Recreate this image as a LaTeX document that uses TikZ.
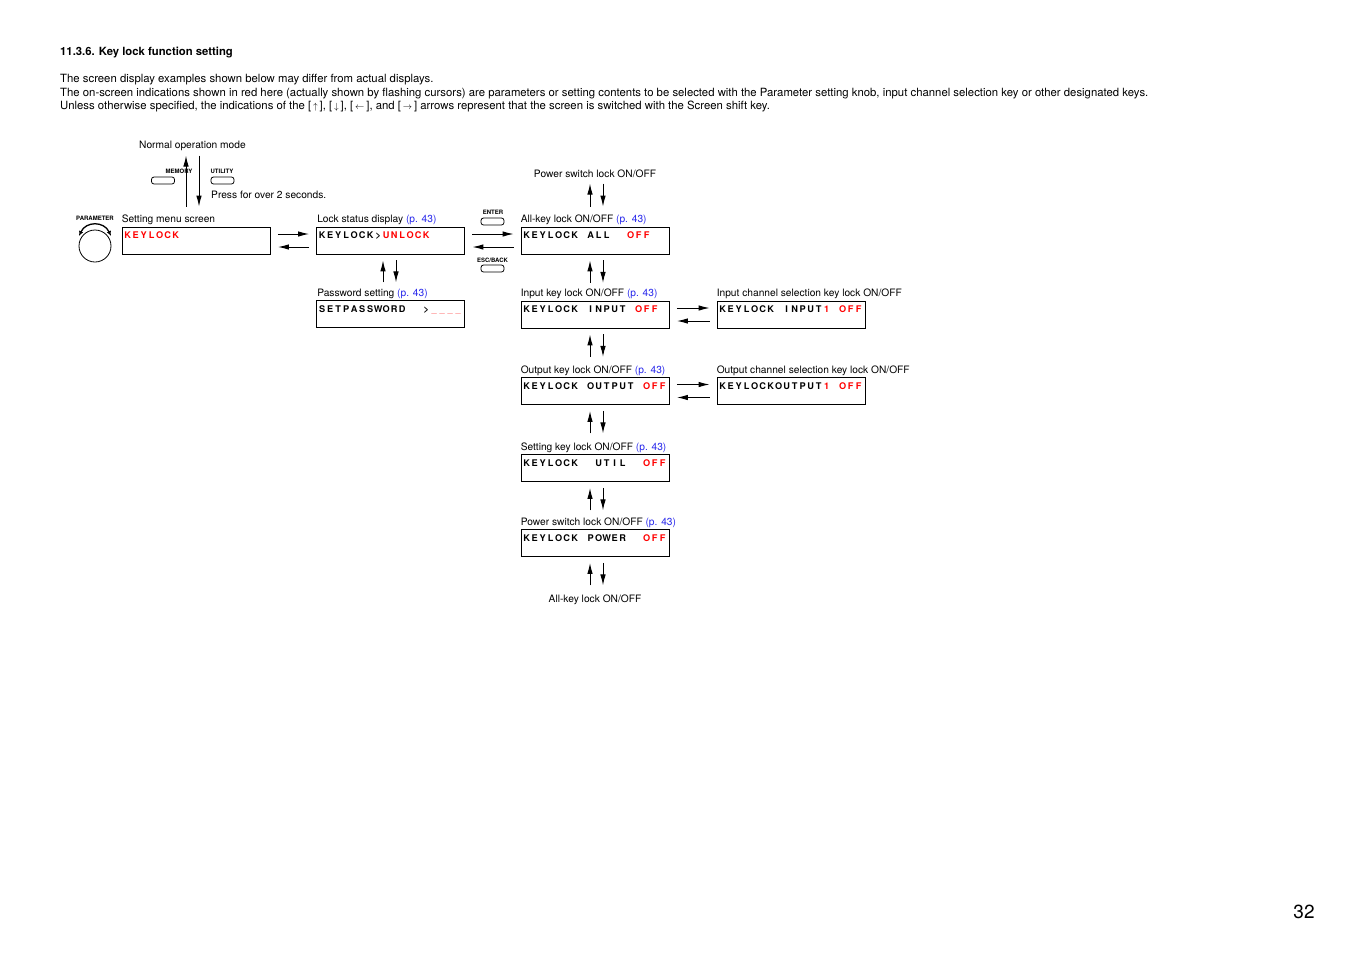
\documentclass[tikz,border=0pt]{standalone}
\usepackage{fontspec}
\setmainfont{TeX Gyre Heros}
\usetikzlibrary{arrows.meta}
\definecolor{lcdred}{RGB}{255,0,0}
\definecolor{pageblue}{RGB}{40,40,235}
% LCD text: one 8pt cell per character, \lcdred / \lcdpale switch colour
\newcommand\lcdfont{\fontsize{9.2}{10}\selectfont\bfseries}
\newcommand\lcdred{\color{lcdred}}
\newcommand\lcdpale{\color{lcdred!45}}
\newcommand\lcd[1]{\lcdloop#1\relax}
\def\lcdloop#1{\ifx\relax#1\else\ifx\lcdred#1#1\else\ifx\lcdpale#1#1\else\makebox[8pt]{#1}\fi\fi\expandafter\lcdloop\fi}
\newcommand\pref{\textcolor{pageblue}{(p. 43)}}
\newcommand\brk[1]{[\,{\fontsize{9}{9}\selectfont$#1$}\,]}
\begin{document}
\begin{tikzpicture}[x=1pt,y=-1pt,font=\fontsize{10.2}{12}\selectfont,
  lcdbox/.style={draw,line width=0.9pt,minimum width=148pt,minimum height=27pt,inner sep=0},
  lcdtxt/.style={anchor=base west,inner sep=0,font=\lcdfont},
  lbl/.style={anchor=base west,inner sep=0},
  note/.style={anchor=base west,inner sep=0,font=\fontsize{11.35}{13}\selectfont},
  keylbl/.style={inner sep=0,font=\fontsize{6}{7}\selectfont\bfseries},
  btn/.style={draw,line width=0.8pt,rounded corners=2.5pt,minimum width=23pt,minimum height=7pt,inner sep=0},
  arr/.style={line width=1pt,-{Latex[length=11pt,width=5.5pt]}}]
\useasboundingbox (0,0) rectangle (1350,954);
% heading and notes
\node[lbl,font=\fontsize{11.3}{13}\selectfont\bfseries] (title) at (60,55) {11.3.6. Key lock function setting};
\node[note] (note1) at (60,82) {The screen display examples shown below may differ from actual displays.};
\node[note] (note2) at (60,96) {The on-screen indications shown in red here (actually shown by flashing cursors) are parameters or setting contents to be selected with the Parameter setting knob, input channel selection key or other designated keys.};
\node[note] (note3) at (60,109.5) {Unless otherwise specified, the indications of the \brk{\uparrow}, \brk{\downarrow}, \brk{\leftarrow}, and \brk{\rightarrow} arrows represent that the screen is switched with the Screen shift key.};
% entry from normal operation
\node[lbl] (normal) at (139,148.5) {Normal operation mode};
\node[keylbl] (memlbl) at (179,171) {MEMORY};
\node[btn] (membtn) at (163,180.5) {};
\node[keylbl] (utillbl) at (222,171) {UTILITY};
\node[btn] (utilbtn) at (222.5,180.5) {};
\node[lbl] (press) at (211,198.5) {Press for over 2 seconds.};
\node[keylbl] (paramlbl) at (95,218.5) {PARAMETER};
\node[draw,circle,line width=0.8pt,minimum size=32pt,inner sep=0] (knob) at (95,246) {};
\draw[line width=1.3pt,{Latex[length=5pt,width=4.5pt]}-{Latex[length=5pt,width=4.5pt]}] ([shift={(-16pt,10pt)}]knob.center) .. controls ([shift={(-9pt,25pt)}]knob.center) and ([shift={(9pt,25pt)}]knob.center) .. ([shift={(16pt,10pt)}]knob.center);
% screens
\node[lcdbox] (menu) at (196,240.5) {};
\node[lbl] (menulbl) at ([shift={(0pt,4pt)}]menu.north west) {Setting menu screen};
\node[lcdtxt] (menutxt) at ([shift={(2pt,-12.3pt)}]menu.north west) {\lcd{\lcdred KEYLOCK}};
\node[lcdbox] (lockst) at (390.5,240.5) {};
\node[lbl] (lockstlbl) at ([shift={(1pt,4pt)}]lockst.north west) {Lock status display \pref};
\node[lcdtxt] (lockstxt) at ([shift={(2pt,-12.3pt)}]lockst.north west) {\lcd{KEYLOCK>\lcdred UNLOCK}};
\node[lcdbox] (passw) at (390.5,314) {};
\node[lbl] (passwlbl) at ([shift={(1pt,4pt)}]passw.north west) {Password setting \pref};
\node[lcdtxt] (passwtxt) at ([shift={(2pt,-12.3pt)}]passw.north west) {\lcd{SETPASSWORD~~>\lcdpale\_\_\_\_}};
\node[lcdbox] (allkey) at (595,240.5) {};
\node[lbl] (allkeylbl) at ([shift={(0pt,4pt)}]allkey.north west) {All-key lock ON/OFF \pref};
\node[lcdtxt] (allkeytxt) at ([shift={(2pt,-12.3pt)}]allkey.north west) {\lcd{KEYLOCK~ALL~~\lcdred OFF}};
\node[lcdbox] (inkey) at (595,314.5) {};
\node[lbl] (inkeylbl) at ([shift={(0pt,4pt)}]inkey.north west) {Input key lock ON/OFF \pref};
\node[lcdtxt] (inkeytxt) at ([shift={(2pt,-12.3pt)}]inkey.north west) {\lcd{KEYLOCK~INPUT~\lcdred OFF}};
\node[lcdbox] (inch) at (791,314.5) {};
\node[lbl] (inchlbl) at ([shift={(0pt,4pt)}]inch.north west) {Input channel selection key lock ON/OFF};
\node[lcdtxt] (inchtxt) at ([shift={(2pt,-12.3pt)}]inch.north west) {\lcd{KEYLOCK~INPUT\lcdred1~OFF}};
\node[lcdbox] (outkey) at (595,391) {};
\node[lbl] (outkeylbl) at ([shift={(0pt,4pt)}]outkey.north west) {Output key lock ON/OFF \pref};
\node[lcdtxt] (outkeytxt) at ([shift={(2pt,-12.3pt)}]outkey.north west) {\lcd{KEYLOCK~OUTPUT~\lcdred OFF}};
\node[lcdbox] (outch) at (791,391) {};
\node[lbl] (outchlbl) at ([shift={(0pt,4pt)}]outch.north west) {Output channel selection key lock ON/OFF};
\node[lcdtxt] (outchtxt) at ([shift={(2pt,-12.3pt)}]outch.north west) {\lcd{KEYLOCKOUTPUT\lcdred1~OFF}};
\node[lcdbox] (setkey) at (595,468) {};
\node[lbl] (setkeylbl) at ([shift={(0pt,4pt)}]setkey.north west) {Setting key lock ON/OFF \pref};
\node[lcdtxt] (setkeytxt) at ([shift={(2pt,-12.3pt)}]setkey.north west) {\lcd{KEYLOCK~~UTIL~~\lcdred OFF}};
\node[lcdbox] (powkey) at (595,543) {};
\node[lbl] (powkeylbl) at ([shift={(0pt,4pt)}]powkey.north west) {Power switch lock ON/OFF \pref};
\node[lcdtxt] (powkeytxt) at ([shift={(2pt,-12.3pt)}]powkey.north west) {\lcd{KEYLOCK~POWER~~\lcdred OFF}};
\node[anchor=base,inner sep=0] (powtop) at (595,177.5) {Power switch lock ON/OFF};
\node[anchor=base,inner sep=0] (allbot) at (595,602.5) {All-key lock ON/OFF};
% ENTER / ESC/BACK keys
\node[keylbl] (enterlbl) at (493,212.7) {ENTER};
\node[btn] (enterbtn) at (492.5,221.5) {};
\node[keylbl] (esclbl) at (492.5,260) {ESC/BACK};
\node[btn] (escbtn) at (492.5,268.5) {};
% vertical transitions
\draw[arr] ([shift={(-10pt,20pt)}]menu.north) -- ([shift={(-10pt,71pt)}]menu.north);
\draw[arr] ([shift={(3pt,71pt)}]menu.north) -- ([shift={(3pt,20pt)}]menu.north);
\draw[arr] ([shift={(-7.5pt,-28pt)}]lockst.south) -- ([shift={(-7.5pt,-6pt)}]lockst.south);
\draw[arr] ([shift={(5.5pt,-6pt)}]lockst.south) -- ([shift={(5.5pt,-28pt)}]lockst.south);
\draw[arr] ([shift={(-5pt,20pt)}]allkey.north) -- ([shift={(-5pt,43pt)}]allkey.north);
\draw[arr] ([shift={(8pt,43pt)}]allkey.north) -- ([shift={(8pt,20pt)}]allkey.north);
\foreach \a in {allkey,inkey,outkey,setkey,powkey}{
  \draw[arr] ([shift={(-5pt,-28.5pt)}]\a.south) -- ([shift={(-5pt,-6pt)}]\a.south);
  \draw[arr] ([shift={(8pt,-6pt)}]\a.south) -- ([shift={(8pt,-28.5pt)}]\a.south);
}
% horizontal transitions
\foreach \a/\b in {menu/lockst,lockst/allkey,inkey/inch,outkey/outch}{
  \draw[arr] ([shift={(7.5pt,6.5pt)}]\a.east) -- ([shift={(-7pt,6.5pt)}]\b.west);
  \draw[arr] ([shift={(-7pt,-6.5pt)}]\b.west) -- ([shift={(7.5pt,-6.5pt)}]\a.east);
}
\node[anchor=base,inner sep=0,font=\fontsize{19}{22}\selectfont] (pagenum) at (1304,918) {32};
\end{tikzpicture}
\end{document}
